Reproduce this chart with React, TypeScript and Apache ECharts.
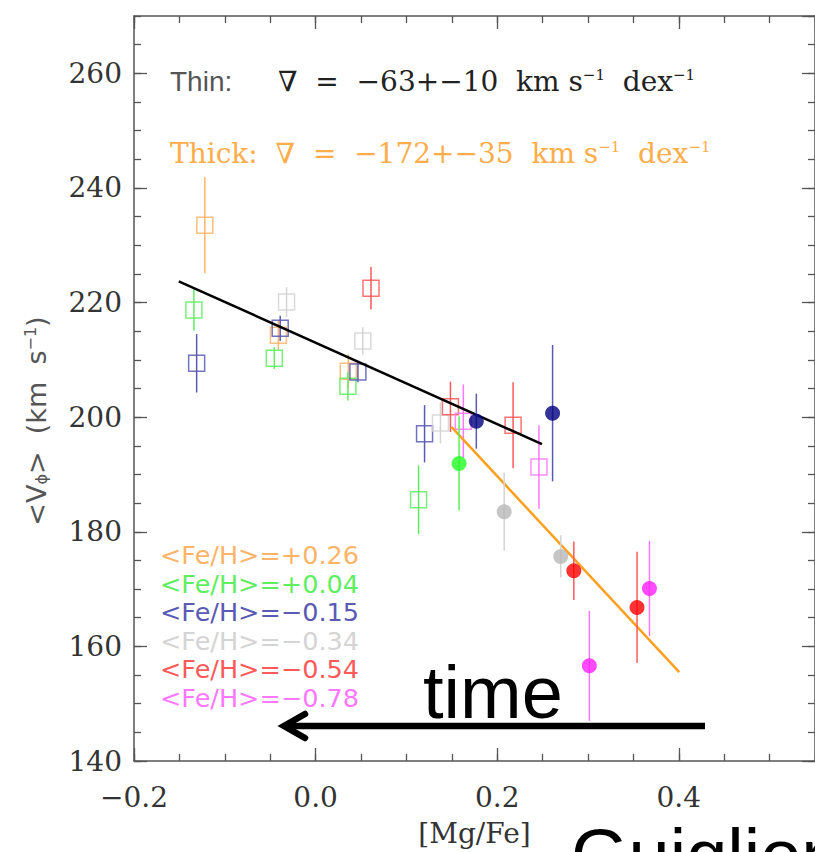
import React, { useEffect, useRef } from 'react';
import * as echarts from 'echarts';

// Metallicity bins (legend labels, colours)
const binLabels = ['<Fe/H>=+0.26', '<Fe/H>=+0.04', '<Fe/H>=−0.15', '<Fe/H>=−0.34', '<Fe/H>=−0.54', '<Fe/H>=−0.78'];
const binColors = ['#ffb469', '#5fee5f', '#5a5ab4', '#d4d4d4', '#ff5a5a', '#ff78ff'];
const thickColors = ['#ffa030', '#22ff22', '#000080', '#b8b8b8', '#ff0000', '#ff1eff'];

// Thin disc: [ [Mg/Fe], <Vphi>, error ]
const thinP026 = [[-0.122, 233.5, 8.4], [-0.041, 214.3, 2.6], [0.036, 208.0, 2.9]];
const thinP004 = [[-0.134, 218.7, 3.6], [-0.0455, 210.3, 1.9], [0.0356, 205.4, 2.5], [0.1134, 185.6, 6.0]];
const thinM015 = [[-0.131, 209.4, 5.1], [-0.039, 215.5, 2.2], [0.0466, 207.9, 1.8], [0.12, 197.1, 5.0]];
const thinM034 = [[-0.032, 220.1, 2.6], [0.052, 213.3, 2.4], [0.1375, 199.0, 3.6]];
const thinM054 = [[0.061, 222.5, 3.7], [0.1485, 201.8, 4.4], [0.2175, 198.6, 7.5]];
const thinM078 = [[0.1627, 199.3, 6.4], [0.246, 191.3, 7.3]];

// Thick disc: [ [Mg/Fe], <Vphi>, error ]
const thickP026: number[][] = [];
const thickP004 = [[0.158, 191.9, 8.2]];
const thickM015 = [[0.177, 199.3, 4.8], [0.261, 200.7, 11.9]];
const thickM034 = [[0.2077, 183.5, 6.8], [0.27, 175.7, 3.7]];
const thickM054 = [[0.2844, 173.2, 5.1], [0.354, 166.8, 9.7]];
const thickM078 = [[0.3677, 170.1, 8.3], [0.3015, 156.6, 9.6]];

// Linear fits
const thinFit = [[-0.1507, 223.7], [0.2493, 195.3]];
const thickFit = [[0.1496, 198.3], [0.4005, 155.5]];

const thinGroups = [thinP026, thinP004, thinM015, thinM034, thinM054, thinM078];
const thickGroups = [thickP026, thickP004, thickM015, thickM034, thickM054, thickM078];

const AXIS_COLOR = '#555';
const SERIF = 'DejaVu Serif';
const SANS = 'DejaVu Sans';

function fmt(v: number) {
  const s = Math.abs(v).toFixed(1);
  return v < -1e-9 ? '−' + s : s;
}

function errSeries(data: number[][], color: string, z: number) {
  return {
    type: 'custom',
    silent: true,
    z,
    data,
    encode: { x: 0, y: 1 },
    renderItem: (params: any, api: any) => {
      const x = api.value(0);
      const y = api.value(1);
      const e = api.value(2);
      const p1 = api.coord([x, y - e]);
      const p2 = api.coord([x, y + e]);
      return {
        type: 'line',
        shape: { x1: p1[0], y1: p1[1], x2: p2[0], y2: p2[1] },
        style: { stroke: color, lineWidth: 1.5 },
      };
    },
  };
}

export default function App() {
  const ref = useRef<HTMLDivElement>(null);
  useEffect(() => {
    if (!ref.current) return;
    const chart = echarts.init(ref.current, undefined, { renderer: 'svg' });

    const series: any[] = [];
    thinGroups.forEach((g, i) => {
      series.push(errSeries(g, binColors[i], 2));
      series.push({
        type: 'scatter',
        silent: true,
        z: 2,
        data: g.map((d) => [d[0], d[1]]),
        symbol: 'rect',
        symbolSize: 16,
        itemStyle: { color: 'rgba(255,255,255,0)', borderColor: binColors[i], borderWidth: 1.5, opacity: 0.85 },
      });
    });
    series.push({
      type: 'line', silent: true, z: 3, data: thinFit, showSymbol: false, symbol: 'none',
      lineStyle: { color: '#000', width: 2.5 },
    });
    series.push({
      type: 'line', silent: true, z: 3, data: thickFit, showSymbol: false, symbol: 'none',
      lineStyle: { color: '#ffa020', width: 2.5 },
    });
    thickGroups.forEach((g, i) => {
      series.push(errSeries(g, binColors[i], 4));
      series.push({
        type: 'scatter',
        silent: true,
        z: 5,
        data: g.map((d) => [d[0], d[1]]),
        symbol: 'circle',
        symbolSize: 15,
        itemStyle: { color: thickColors[i] },
      });
    });

    const tickLine = { color: AXIS_COLOR, width: 1.3 };
    const mainLine = { show: true, onZero: false, lineStyle: { color: AXIS_COLOR, width: 1.5 } };
    const noLine = { show: false, onZero: false };
    const xBase = { type: 'value', min: -0.2, max: 0.55, splitLine: { show: false } };
    const yBase = { type: 'value', min: 140, max: 270, splitLine: { show: false } };

    const option: any = {
      animation: false,
      backgroundColor: '#fff',
      grid: { left: 134, top: 16, width: 684, height: 747 },
      xAxis: [
        {
          ...xBase, position: 'bottom', interval: 0.2,
          axisLine: mainLine,
          axisTick: { show: true, inside: true, length: 13, lineStyle: tickLine },
          axisLabel: { show: true, formatter: fmt, fontFamily: SERIF, fontSize: 28, color: '#333', margin: 22, showMaxLabel: false },
          name: '[Mg/Fe]', nameLocation: 'middle', nameGap: 58,
          nameTextStyle: { fontFamily: SERIF, fontSize: 28, color: '#333' },
        },
        {
          ...xBase, position: 'bottom', interval: 0.05,
          axisLine: noLine,
          axisTick: { show: true, inside: true, length: 7, lineStyle: tickLine },
          axisLabel: { show: false },
        },
        {
          ...xBase, position: 'top', interval: 0.2,
          axisLine: mainLine,
          axisTick: { show: true, inside: true, length: 13, lineStyle: tickLine },
          axisLabel: { show: false },
        },
        {
          ...xBase, position: 'top', interval: 0.05,
          axisLine: noLine,
          axisTick: { show: true, inside: true, length: 7, lineStyle: tickLine },
          axisLabel: { show: false },
        },
      ],
      yAxis: [
        {
          ...yBase, position: 'left', interval: 20,
          axisLine: mainLine,
          axisTick: { show: true, inside: true, length: 13, lineStyle: tickLine },
          axisLabel: { show: true, fontFamily: SERIF, fontSize: 28, color: '#333', margin: 12, showMaxLabel: false },
        },
        {
          ...yBase, position: 'left', interval: 5,
          axisLine: noLine,
          axisTick: { show: true, inside: true, length: 7, lineStyle: tickLine },
          axisLabel: { show: false },
        },
        {
          ...yBase, position: 'right', interval: 20,
          axisLine: mainLine,
          axisTick: { show: true, inside: true, length: 13, lineStyle: tickLine },
          axisLabel: { show: false },
        },
        {
          ...yBase, position: 'right', interval: 5,
          axisLine: noLine,
          axisTick: { show: true, inside: true, length: 7, lineStyle: tickLine },
          axisLabel: { show: false },
        },
      ],
      series,
      graphic: [
        {
          type: 'text', x: 170, y: 81, silent: true,
          style: { text: 'Thin:', fontFamily: 'Liberation Sans', fontSize: 28, fill: '#555', verticalAlign: 'middle', textVerticalAlign: 'middle' },
        },
        {
          type: 'text', x: 278, y: 81, silent: true,
          style: {
            text: '∇  =  −63+−10  km s{sup|−1}  dex{sup|−1}',
            fontFamily: SERIF, fontSize: 28, fill: '#222', verticalAlign: 'middle', textVerticalAlign: 'middle',
            rich: { sup: { fontFamily: SERIF, fontSize: 15, fill: '#222', verticalAlign: 'top' } },
          },
        },
        {
          type: 'text', x: 170, y: 153, silent: true,
          style: {
            text: 'Thick:  ∇  =  −172+−35  km s{sup|−1}  dex{sup|−1}',
            fontFamily: SERIF, fontSize: 28, fill: '#ffad4a', verticalAlign: 'middle', textVerticalAlign: 'middle',
            rich: { sup: { fontFamily: SERIF, fontSize: 15, fill: '#ffad4a', verticalAlign: 'top' } },
          },
        },
        ...binLabels.map((t, i) => ({
          type: 'text', x: 160, y: 555 + i * 28.5, silent: true,
          style: { text: t, fontFamily: SANS, fontSize: 25.5, fill: binColors[i], verticalAlign: 'middle', textVerticalAlign: 'middle' },
        })),
        {
          type: 'text', x: 36, y: 421, rotation: Math.PI / 2, silent: true,
          style: {
            text: '<V{sub|ϕ}>  (km  s{sup|−1})',
            fontFamily: SANS, fontSize: 27, fill: '#555', align: 'center', textAlign: 'center', verticalAlign: 'middle', textVerticalAlign: 'middle',
            rich: {
              sub: { fontFamily: SANS, fontSize: 16, fill: '#555', verticalAlign: 'bottom' },
              sup: { fontFamily: SANS, fontSize: 16, fill: '#555', verticalAlign: 'top' },
            },
          },
        },
        {
          type: 'text', x: 423, y: 692, silent: true, z: 10,
          style: { text: 'time', fontFamily: 'Liberation Sans', fontSize: 74, fill: '#000', verticalAlign: 'middle', textVerticalAlign: 'middle' },
        },
        {
          type: 'line', silent: true, z: 10,
          shape: { x1: 705, y1: 726, x2: 287, y2: 726 },
          style: { stroke: '#000', lineWidth: 6.5 },
        },
        {
          type: 'polyline', silent: true, z: 10,
          shape: { points: [[305, 714], [284, 726], [305, 738]] },
          style: { stroke: '#000', lineWidth: 6.5, fill: null, lineCap: 'round', lineJoin: 'miter' },
        },
        {
          type: 'text', x: 571, y: 855, silent: true, z: 10,
          style: { text: 'Guiglion', fontFamily: 'Liberation Sans', fontSize: 74, fill: '#000', verticalAlign: 'middle', textVerticalAlign: 'middle' },
        },
      ],
    };
    chart.setOption(option);
    return () => chart.dispose();
  }, []);
  return <div ref={ref} style={{ position: 'fixed', left: 0, top: 0, width: 815, height: 852, background: '#fff' }} />;
}
